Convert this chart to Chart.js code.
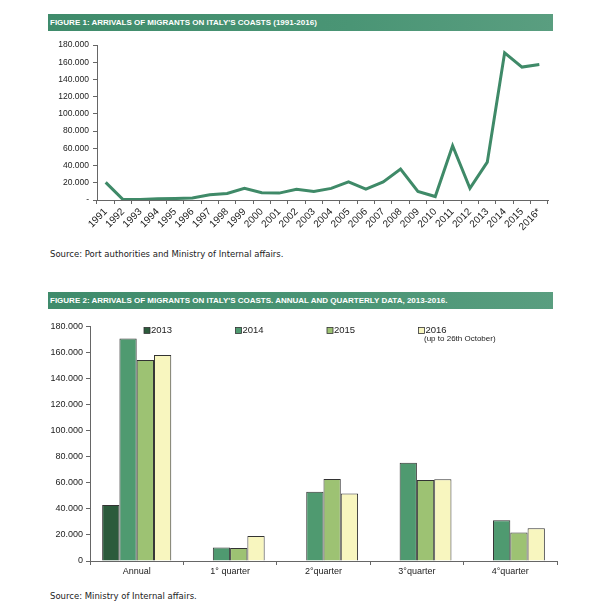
<!DOCTYPE html>
<html>
<head>
<meta charset="utf-8">
<script src="https://cdn.jsdelivr.net/npm/chart.js@4.4.1/dist/chart.umd.min.js"></script>
<style>
  html, body { margin: 0; padding: 0; background: #fff; }
  body { width: 600px; height: 612px; position: relative; overflow: hidden; }
  .banner {
    position: absolute; left: 48px; width: 505px; height: 17px;
    background: linear-gradient(90deg, #3f8b6b 0%, #4a9575 60%, #5a9e80 100%);
    color: #fff; font: bold 8px "Liberation Sans", Arial, sans-serif;
    line-height: 17px; padding-left: 2px; box-sizing: border-box; white-space: nowrap;
  }
  .source {
    position: absolute; left: 50px; font: 8.5px "DejaVu Sans", sans-serif; color: #222;
    white-space: nowrap;
  }
  canvas { position: absolute; }
</style>
</head>
<body>
<div class="banner" style="top:14px">FIGURE 1: ARRIVALS OF MIGRANTS ON ITALY'S COASTS (1991-2016)</div>
<canvas id="arrivals" width="520" height="205" style="left:40px; top:36px"></canvas>
<div class="source" style="top:249px">Source: Port authorities and Ministry of Internal affairs.</div>

<div class="banner" style="top:292px">FIGURE 2: ARRIVALS OF MIGRANTS ON ITALY'S COASTS. ANNUAL AND QUARTERLY DATA, 2013-2016.</div>
<canvas id="quarterly" width="525" height="268" style="left:40px; top:318px"></canvas>
<div class="source" style="top:591px">Source: Ministry of Internal affairs.</div>

<script>
// ============================================================
// DATA
// ============================================================
const years = ['1991', '1992', '1993', '1994', '1995', '1996', '1997', '1998', '1999',
    '2000', '2001', '2002', '2003', '2004', '2005', '2006', '2007', '2008', '2009',
    '2010', '2011', '2012', '2013', '2014', '2015', '2016*'];
const arrivals = [20500, 500, 700, 1500, 1700, 2300, 6000, 7500, 13500,
    8500, 8000, 12500, 10000, 13500, 21000, 12500, 21000, 36000, 10000,
    4000, 63000, 13500, 44000, 171000, 154500, 157500];

const periods = ['Annual', '1° quarter', '2°quarter', '3°quarter', '4°quarter'];
const series2013 = [43000, null, null, null, null];
const series2014 = [170800, 10400, 53200, 75400, 31300];
const series2015 = [154300, 9900, 62900, 62100, 21900];
const series2016 = [158100, 19100, 51700, 62800, 25200];
const seriesNames = ['2013', '2014', '2015', '2016'];
const note2016 = '(up to 26th October)';

// ============================================================
// HELPERS
// ============================================================
const axisFont = { family: '"Liberation Sans", Arial, sans-serif', size: 9 };
const textColor = '#222';

function dotted(v) {
    return String(v).replace(/\B(?=(\d{3})+(?!\d))/g, '.');
}

// ============================================================
// FIGURE 1 - LINE
// ============================================================
new Chart(document.getElementById('arrivals'), {
    type: 'line',
    data: {
        labels: years,
        datasets: [{
            data: arrivals,
            borderColor: '#3f8a68',
            borderWidth: 3,
            pointRadius: 0,
            tension: 0,
            fill: false
        }]
    },
    options: {
        responsive: false,
        animation: false,
        layout: { padding: { top: 8, right: 12 } },
        plugins: { legend: { display: false }, tooltip: { enabled: false } },
        scales: {
            x: {
                offset: true,
                grid: { offset: true, drawOnChartArea: false, tickLength: 4, color: '#666' },
                border: { color: '#666' },
                ticks: { font: { ...axisFont, size: 10 }, color: textColor, minRotation: 45, maxRotation: 45, autoSkip: false, padding: 2 },
                afterFit(scale) { scale.height = 41; }
            },
            y: {
                min: 0,
                max: 180000,
                grid: { drawOnChartArea: false, tickLength: 4, color: '#666' },
                border: { color: '#666' },
                ticks: {
                    stepSize: 20000,
                    font: { ...axisFont, size: 8.5 },
                    color: textColor,
                    padding: 4,
                    callback: v => v === 0 ? '-' : dotted(v)
                },
                afterFit(scale) { scale.width = 57; }
            }
        }
    }
});

// ============================================================
// FIGURE 2 - GROUPED BARS
// ============================================================
const barColors = ['#2c5b3c', '#4f9a70', '#9dc273', '#f8f6bf'];

const insideLegend = {
    id: 'insideLegend',
    afterDraw(chart) {
        const ctx = chart.ctx;
        const area = chart.chartArea;
        ctx.save();
        ctx.font = '9.5px "Liberation Sans", Arial, sans-serif';
        ctx.textBaseline = 'middle';
        chart.data.datasets.forEach((ds, i) => {
            const x = area.left + 54 + i * 91.5;
            const y = area.top + 4;
            ctx.fillStyle = ds.backgroundColor;
            ctx.fillRect(x, y - 3, 6, 6);
            ctx.strokeStyle = '#333';
            ctx.lineWidth = 0.8;
            ctx.strokeRect(x, y - 3, 6, 6);
            ctx.fillStyle = textColor;
            ctx.fillText(ds.label, x + 7, y);
        });
        ctx.font = '8px "Liberation Sans", Arial, sans-serif';
        ctx.fillText(note2016, area.left + 334, area.top + 12);
        ctx.restore();
    }
};

new Chart(document.getElementById('quarterly'), {
    type: 'bar',
    data: {
        labels: periods,
        datasets: [series2013, series2014, series2015, series2016].map((d, i) => ({
            label: seriesNames[i],
            data: d,
            backgroundColor: barColors[i],
            borderColor: '#333',
            borderWidth: 1,
            barPercentage: 1,
            categoryPercentage: 0.74
        }))
    },
    options: {
        responsive: false,
        animation: false,
        layout: { padding: { top: 7, right: 8 } },
        plugins: { legend: { display: false }, tooltip: { enabled: false } },
        scales: {
            x: {
                grid: { drawOnChartArea: false, tickLength: 4, color: '#666' },
                border: { color: '#666' },
                ticks: { font: axisFont, color: textColor, padding: 1 },
                afterFit(scale) { scale.height = 25; }
            },
            y: {
                min: 0,
                max: 180000,
                grid: { drawOnChartArea: false, tickLength: 4, color: '#666' },
                border: { color: '#666' },
                ticks: {
                    stepSize: 20000,
                    font: axisFont,
                    color: textColor,
                    padding: 3,
                    callback: v => dotted(v)
                },
                afterFit(scale) { scale.width = 50; }
            }
        }
    },
    plugins: [insideLegend]
});
</script>
</body>
</html>
